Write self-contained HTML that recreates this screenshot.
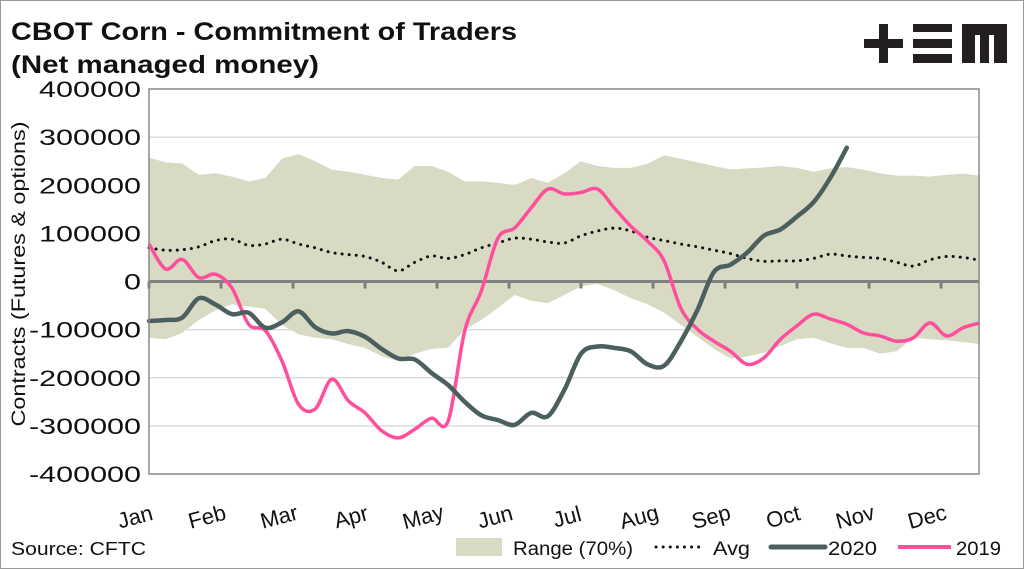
<!DOCTYPE html>
<html><head><meta charset="utf-8"><style>
html,body{margin:0;padding:0;background:#fff}
#wrap{position:relative;width:1024px;height:569px;overflow:hidden;font-family:"Liberation Sans",sans-serif;box-sizing:border-box;border:1px solid #999}
</style></head><body>
<div id="wrap">
<svg style="position:absolute;left:0;top:0" width="1024" height="80">
<rect x="863" y="38" width="39" height="9" fill="#231f20"/><rect x="878" y="23" width="9" height="39" fill="#231f20"/>
<rect x="912" y="23" width="39" height="8" fill="#231f20"/><rect x="912" y="38" width="39" height="9" fill="#231f20"/><rect x="912" y="53" width="39" height="9" fill="#231f20"/>
<path d="M961 23 H1006 V62 H993 V34 H988 V62 H979 V34 H974 V62 H961 Z" fill="#231f20"/>
</svg>
<svg id="chart" style="position:absolute;left:0;top:0" width="1024" height="569">
<text x="10" y="39" font-size="25" font-weight="bold" fill="#111" font-family="Liberation Sans, sans-serif" textLength="506" lengthAdjust="spacingAndGlyphs">CBOT Corn - Commitment of Traders</text>
<text x="10" y="72" font-size="25" font-weight="bold" fill="#111" font-family="Liberation Sans, sans-serif" textLength="308" lengthAdjust="spacingAndGlyphs">(Net managed money)</text>
<text x="10" y="554" font-size="18" fill="#111" font-family="Liberation Sans, sans-serif" textLength="135" lengthAdjust="spacingAndGlyphs">Source: CFTC</text>
</svg>
</div>
<script>
const months=["Jan","Feb","Mar","Apr","May","Jun","Jul","Aug","Sep","Oct","Nov","Dec"];
const yTicks=[400000,300000,200000,100000,0,-100000,-200000,-300000,-400000];
const rangeUpper=[257,248,245,222,225,218,208,215,255,265,250,232,228,222,215,212,240,240,228,208,208,205,200,215,205,225,250,240,236,236,245,262,255,248,240,233,235,237,240,236,228,235,238,232,225,220,220,218,222,224,220];
const rangeLower=[-117,-120,-107,-80,-60,-47,-52,-57,-90,-110,-117,-120,-130,-138,-155,-165,-150,-140,-138,-100,-80,-55,-28,-40,-45,-28,-10,-5,-18,-35,-47,-65,-90,-115,-140,-160,-156,-148,-134,-120,-117,-128,-138,-138,-150,-145,-117,-120,-122,-126,-130];
const avgVals=[70,65,66,72,85,88,75,78,88,78,70,60,56,52,40,22,40,53,48,56,70,80,90,88,82,80,95,105,111,105,92,85,78,72,65,58,48,42,43,43,48,57,53,50,48,40,32,45,52,50,44];
const y2020=[-82,-80,-75,-35,-48,-68,-65,-96,-85,-62,-95,-108,-103,-115,-140,-160,-162,-190,-215,-250,-278,-288,-298,-273,-280,-225,-150,-135,-138,-145,-172,-175,-125,-60,20,35,60,95,108,135,165,215,278];
const y2019=[78,26,46,8,15,-14,-89,-102,-165,-255,-265,-203,-248,-273,-310,-325,-307,-284,-290,-103,-20,90,111,153,192,182,185,192,153,115,84,43,-55,-99,-124,-145,-172,-159,-120,-92,-68,-78,-89,-107,-113,-124,-117,-86,-113,-96,-86];

const L=148,R=978,T=88,B=473;
const FF='Liberation Sans, sans-serif';
const xw=w=>L+w*(72*12/52);
const xm=m=>L+m*72;
const yv=v=>T+(400000-v)/800000*(B-T);
const yk=k=>yv(k*1000);
const svg=document.getElementById('chart');
const NS='http://www.w3.org/2000/svg';
function mk(tag,attrs,parent){const e=document.createElementNS(NS,tag);for(const k in attrs)e.setAttribute(k,attrs[k]);(parent||svg).appendChild(e);return e;}
function smooth(pts){let d='M'+pts[0][0].toFixed(1)+' '+pts[0][1].toFixed(1);
 for(let i=0;i<pts.length-1;i++){const p0=pts[i-1]||pts[i],p1=pts[i],p2=pts[i+1],p3=pts[i+2]||p2;
 const c1=[p1[0]+(p2[0]-p0[0])/6,p1[1]+(p2[1]-p0[1])/6],c2=[p2[0]-(p3[0]-p1[0])/6,p2[1]-(p3[1]-p1[1])/6];
 d+=' C'+c1.map(v=>v.toFixed(1)).join(' ')+' '+c2.map(v=>v.toFixed(1)).join(' ')+' '+p2[0].toFixed(1)+' '+p2[1].toFixed(1);}return d;}

yTicks.forEach(v=>{
 const g=mk('line',{x1:L,x2:R,y1:yv(v),y2:yv(v),stroke:'#d6d6d6','stroke-width':1.2});
 
 
 const s=String(v);
 const w=s.replace('-','').length*17+(v<0?10:0);
 const t=mk('text',{x:140,y:yv(v)+8,'text-anchor':'end','font-size':22,fill:'#111','font-family':FF,textLength:w,lengthAdjust:'spacingAndGlyphs'});
 t.textContent=s;
 
 
});
const up=rangeUpper.map((k,i)=>[xw(i),yk(k)]);
const lo=rangeLower.map((k,i)=>[xw(i),yk(k)]);
let rd='M'+up.map(p=>p[0].toFixed(1)+' '+p[1].toFixed(1)).join(' L')+' L'+lo.slice().reverse().map(p=>p[0].toFixed(1)+' '+p[1].toFixed(1)).join(' L')+' Z';
const band=mk('path',{d:rd,fill:'#d9dac4'});


const z=mk('line',{x1:L,x2:R,y1:yv(0),y2:yv(0),stroke:'#808080','stroke-width':3});


months.forEach((m,i)=>{
 const tk=mk('line',{x1:xm(i),x2:xm(i),y1:yv(0),y2:yv(0)+7,stroke:'#808080','stroke-width':3});
 
 
 const x=xm(i)-12,y=523;
 const t=mk('text',{x:x,y:y,'text-anchor':'middle','font-size':22,fill:'#111','font-family':FF,transform:'rotate(-15 '+x+' '+y+')'});
 t.textContent=m;
 
 
});
const av=mk('path',{d:smooth(avgVals.map((k,i)=>[xw(i),yk(k)])),fill:'none',stroke:'#111','stroke-width':3,'stroke-dasharray':'0.1 7','stroke-linecap':'round'});


const l19=mk('path',{d:smooth(y2019.map((k,i)=>[xw(i),yk(k)])),fill:'none',stroke:'#ff4f9c','stroke-width':3.5,'stroke-linejoin':'round'});


const l20=mk('path',{d:smooth(y2020.map((k,i)=>[xw(i),yk(k)])),fill:'none',stroke:'#4b5f5f','stroke-width':4.5,'stroke-linecap':'round','stroke-linejoin':'round'});


const fr=mk('rect',{x:L,y:T,width:R-L,height:B-T,fill:'none',stroke:'#8a8a8a','stroke-width':1.5});


const yt=mk('text',{x:24,y:273,'text-anchor':'middle','font-size':19,fill:'#111','font-family':FF,transform:'rotate(-90 24 273)',textLength:305,lengthAdjust:'spacingAndGlyphs'});
yt.textContent='Contracts (Futures & options)';


const lg=mk('g',{});


const lr=mk('rect',{x:455,y:537,width:46,height:18,fill:'#d9dac4'},lg);


function lt(x,s,w,n){const t=mk('text',{x:x,y:554,'font-size':19,fill:'#111','font-family':FF,textLength:w,lengthAdjust:'spacingAndGlyphs'},lg);t.textContent=s;}
lt(512,'Range (70%)',120,'legend-label-range');
const ld=mk('line',{x1:655,x2:700,y1:546,y2:546,stroke:'#111','stroke-width':3,'stroke-dasharray':'0.1 7','stroke-linecap':'round'},lg);


lt(712,'Avg',37,'legend-label-avg');
const l1=mk('line',{x1:770,x2:824,y1:546,y2:546,stroke:'#4b5f5f','stroke-width':5,'stroke-linecap':'round'},lg);


lt(827,'2020',49,'legend-label-2020');
const l2=mk('line',{x1:897,x2:950,y1:546,y2:546,stroke:'#ff4f9c','stroke-width':4},lg);


lt(955,'2019',45,'legend-label-2019');
</script>
</body></html>
